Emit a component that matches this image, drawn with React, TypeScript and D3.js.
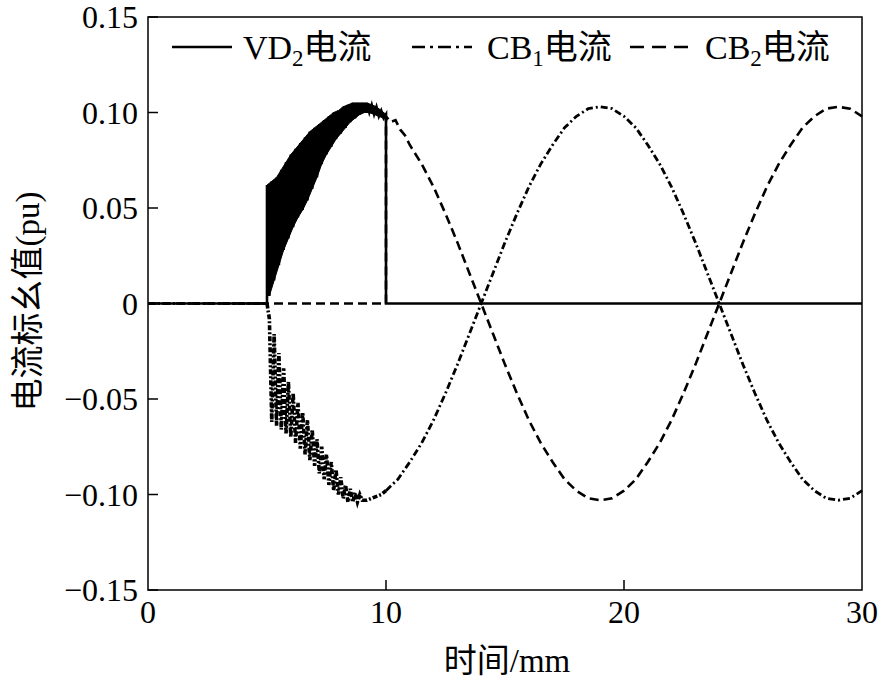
import React from 'react';
import * as d3 from 'd3';

const width = 883;
const height = 683;
const margin = { top: 17, right: 21, bottom: 93, left: 148 };

const xTicks = [0, 10, 20, 30];
const yTicks = [-0.15, -0.1, -0.05, 0, 0.05, 0.1, 0.15];

// VD2 current: zero, oscillating conduction between 5 and 10 mm, then zero
const vd2Points: [number, number][] = [
  [0, 0], [5, 0], [5, 0.062], [5.1, 0.004], [5.2, 0.064], [5.3, 0.012], [5.4, 0.066], [5.5, 0.020],
  [5.6, 0.070], [5.7, 0.028], [5.8, 0.074], [5.9, 0.034], [6.0, 0.078], [6.1, 0.040], [6.2, 0.081],
  [6.3, 0.045], [6.4, 0.084], [6.5, 0.049], [6.6, 0.087], [6.7, 0.054], [6.8, 0.090], [6.9, 0.060],
  [7.0, 0.092], [7.1, 0.066], [7.2, 0.094], [7.3, 0.073], [7.4, 0.096], [7.5, 0.078], [7.6, 0.098],
  [7.7, 0.082], [7.8, 0.100], [7.9, 0.086], [8.0, 0.101], [8.1, 0.089], [8.2, 0.103], [8.3, 0.092],
  [8.4, 0.104], [8.5, 0.095], [8.6, 0.105], [8.7, 0.097], [8.8, 0.105], [8.9, 0.099], [9.0, 0.105],
  [9.1, 0.100], [9.2, 0.105], [9.3, 0.100], [9.4, 0.104], [9.5, 0.099], [9.6, 0.103], [9.7, 0.098],
  [9.8, 0.101], [9.9, 0.097], [10.0, 0.099], [10.0, 0], [30, 0],
];

// CB1 current
const cb1Points: [number, number][] = [
  [0, 0], [5.0, 0], [5.1, -0.008], [5.2, -0.062], [5.3, -0.016], [5.4, -0.064], [5.5, -0.026],
  [5.6, -0.066], [5.7, -0.034], [5.8, -0.068], [5.9, -0.041], [6.0, -0.070], [6.1, -0.047],
  [6.2, -0.073], [6.3, -0.052], [6.4, -0.076], [6.5, -0.057], [6.6, -0.079], [6.7, -0.061],
  [6.8, -0.082], [6.9, -0.066], [7.0, -0.085], [7.1, -0.071], [7.2, -0.089], [7.3, -0.075],
  [7.4, -0.092], [7.5, -0.079], [7.6, -0.095], [7.7, -0.083], [7.8, -0.098], [7.9, -0.087],
  [8.0, -0.100], [8.1, -0.091], [8.2, -0.102], [8.3, -0.095], [8.4, -0.104], [8.5, -0.097],
  [8.6, -0.104], [8.7, -0.099], [8.8, -0.104], [8.9, -0.100], [9.0, -0.103], [9.2, -0.103],
  [9.4, -0.102], [9.6, -0.101], [9.8, -0.100], [10.0, -0.098], [10.5, -0.092], [11, -0.083],
  [11.5, -0.073], [12, -0.061], [12.5, -0.047], [13, -0.032], [13.5, -0.016], [14, 0],
  [14.5, 0.016], [15, 0.032], [15.5, 0.047], [16, 0.061], [16.5, 0.073], [17, 0.083],
  [17.5, 0.092], [18, 0.098], [18.5, 0.102], [19, 0.103], [19.5, 0.102], [20, 0.098],
  [20.5, 0.092], [21, 0.083], [21.5, 0.073], [22, 0.061], [22.5, 0.047], [23, 0.032],
  [23.5, 0.016], [24, 0], [24.5, -0.016], [25, -0.032], [25.5, -0.047], [26, -0.061],
  [26.5, -0.073], [27, -0.083], [27.5, -0.092], [28, -0.098], [28.5, -0.102], [29, -0.103],
  [29.5, -0.102], [30, -0.098],
];

// CB2 current
const cb2Points: [number, number][] = [
  [0, 0], [10, 0], [10, 0.098], [10.2, 0.095], [10.4, 0.096], [10.6, 0.091], [10.8, 0.088],
  [11, 0.083], [11.5, 0.073], [12, 0.061], [12.5, 0.047], [13, 0.032], [13.5, 0.016], [14, 0],
  [14.5, -0.016], [15, -0.032], [15.5, -0.047], [16, -0.061], [16.5, -0.073], [17, -0.083],
  [17.5, -0.092], [18, -0.098], [18.5, -0.102], [19, -0.103], [19.5, -0.102], [20, -0.098],
  [20.5, -0.092], [21, -0.083], [21.5, -0.073], [22, -0.061], [22.5, -0.047], [23, -0.032],
  [23.5, -0.016], [24, 0], [24.5, 0.016], [25, 0.032], [25.5, 0.047], [26, 0.061],
  [26.5, 0.073], [27, 0.083], [27.5, 0.092], [28, 0.098], [28.5, 0.102], [29, 0.103],
  [29.5, 0.102], [30, 0.098],
];

const latinFont = "'Liberation Serif', 'Times New Roman', serif";
const cjkFont = "'Noto Sans CJK SC', sans-serif";
const dashed = '9,5';
const dashDot = '7,3,2,3';

// text with CJK runs split off into their own font
const Mixed = ({ s }: { s: string }) => {
  const parts = s.match(/[\u4e00-\u9fff]+|[^\u4e00-\u9fff]+/g) || [];
  return (
    <>
      {parts.map((p, i) => (
        <tspan key={i} fontFamily={/[\u4e00-\u9fff]/.test(p) ? cjkFont : latinFont}>{p}</tspan>
      ))}
    </>
  );
};

const App = () => {
  const x = d3.scaleLinear().domain([0, 30]).range([margin.left, width - margin.right]);
  const y = d3.scaleLinear().domain([-0.15, 0.15]).range([height - margin.bottom, margin.top]);
  const line = d3.line<[number, number]>().x(d => x(d[0])).y(d => y(d[1]));
  const yFmt = (d: number) => (Math.abs(d) < 1e-9 ? '0' : d3.format('.2f')(d));

  // the VD2 conduction band (5–10 mm): fill between its troughs and peaks so it reads solid
  const osc = vd2Points.filter(d => d[0] >= 5 && d[0] <= 10 && d[1] > 0);
  const peaks = osc.filter((_, i) => i % 2 === 0);
  const troughs = osc.filter((_, i) => i % 2 === 1);
  const bandPoly = [...troughs, ...peaks.slice().reverse()];
  const polyPath = 'M' + bandPoly.map(d => `${x(d[0])},${y(d[1])}`).join('L') + 'Z';

  const cb1Head = cb1Points.filter(d => d[0] <= 5);
  const cb1Band = cb1Points.filter(d => d[0] >= 5 && d[0] <= 10);
  const cb1Tail = cb1Points.filter(d => d[0] >= 10);

  const x0 = x(0), x1 = x(30), yTop = y(0.15), yBot = y(-0.15);
  const legendY = 47;

  return (
    <svg width={width} height={height} style={{ position: 'absolute', left: 0, top: 0, background: '#fff' }} fontFamily={latinFont}>
      <rect x={0} y={0} width={width} height={height} fill="#fff" />

      <path d={line(cb2Points) || ''} fill="none" stroke="#000" strokeWidth={2.6} strokeDasharray={dashed} />
      <path d={line(cb1Head) || ''} fill="none" stroke="#000" strokeWidth={2.8} strokeDasharray={dashDot} />
      <path d={line(cb1Tail) || ''} fill="none" stroke="#000" strokeWidth={2.8} strokeDasharray={dashDot} />
      <path d={line(cb1Band) || ''} fill="none" stroke="#000" strokeWidth={3.6} strokeDasharray="5,2,2,2" />
      <path d={polyPath} fill="#000" stroke="#000" strokeWidth={1} />
      <path d={line(vd2Points) || ''} fill="none" stroke="#000" strokeWidth={2.6} />

      {/* frame */}
      <rect x={x0} y={yTop} width={x1 - x0} height={yBot - yTop} fill="none" stroke="#000" strokeWidth={1.5} />

      {/* y ticks */}
      {yTicks.map(t => (
        <g key={'y' + t}>
          <line x1={x0} x2={x0 + 10} y1={y(t)} y2={y(t)} stroke="#000" strokeWidth={1.5} />
          <text x={x0 - 10} y={y(t)} dy="0.35em" textAnchor="end" fontSize={32}>{yFmt(t)}</text>
        </g>
      ))}

      {/* x ticks */}
      {xTicks.map(t => (
        <g key={'x' + t}>
          {t > 0 && t < 30 && (
            <line x1={x(t)} x2={x(t)} y1={yBot} y2={yBot - 10} stroke="#000" strokeWidth={1.5} />
          )}
          <text x={x(t)} y={yBot + 33} textAnchor="middle" fontSize={32}>{t}</text>
        </g>
      ))}

      {/* axis titles */}
      <text x={507} y={672} textAnchor="middle" fontSize={33}><Mixed s="时间/mm" /></text>
      <text transform={`translate(39, ${y(0) - 2}) rotate(-90)`} textAnchor="middle" fontSize={33}><Mixed s="电流标幺值(pu)" /></text>

      {/* legend */}
      <line x1={172} x2={232} y1={legendY} y2={legendY} stroke="#000" strokeWidth={2.6} />
      <text x={243} y={legendY + 12} fontSize={34}>VD<tspan fontSize={23} dy={7}>2</tspan><tspan dy={-7} fontFamily={cjkFont}>电流</tspan></text>

      <line x1={412} x2={472} y1={legendY} y2={legendY} stroke="#000" strokeWidth={2.6} strokeDasharray="13,5,3,5" />
      <text x={487} y={legendY + 12} fontSize={34}>CB<tspan fontSize={23} dy={7}>1</tspan><tspan dy={-7} fontFamily={cjkFont}>电流</tspan></text>

      <line x1={630} x2={695} y1={legendY} y2={legendY} stroke="#000" strokeWidth={2.6} strokeDasharray="14,8" />
      <text x={705} y={legendY + 12} fontSize={34}>CB<tspan fontSize={23} dy={7}>2</tspan><tspan dy={-7} fontFamily={cjkFont}>电流</tspan></text>
    </svg>
  );
};

export default App;
